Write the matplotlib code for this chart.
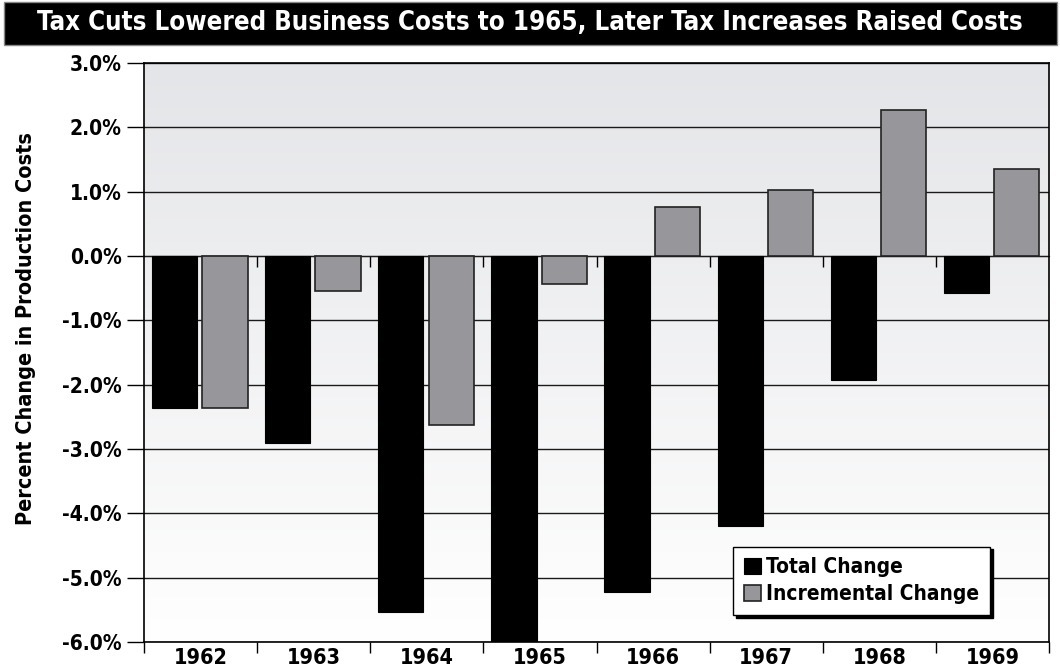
import matplotlib.pyplot as plt
import matplotlib.patches as mpatches
import numpy as np

# Data
years = ['1962', '1963', '1964', '1965', '1966', '1967', '1968', '1969']
total_change = [-2.36, -2.90, -5.54, -5.98, -5.22, -4.19, -1.93, -0.57]
incremental_change = [-2.36, -0.54, -2.63, -0.44, 0.76, 1.02, 2.27, 1.35]
y_ticks = [3, 2, 1, 0, -1, -2, -3, -4, -5, -6]

plt.rcParams['font.family'] = 'DejaVu Sans'
plt.rcParams['font.stretch'] = 'condensed'
plt.rcParams['font.weight'] = 'bold'

fig = plt.figure(figsize=(10.6, 6.71), dpi=100)
ax = fig.add_axes([144 / 1060, 1 - 642 / 671, 905 / 1060, 579 / 671])

ymin, ymax = -6, 3
ax.set_xlim(0, len(years))
ax.set_ylim(ymin, ymax)

# gradient background
grad = np.linspace(0, 1, 256).reshape(-1, 1)
ax.imshow(grad, extent=[0, len(years), ymin, ymax], aspect='auto',
          cmap=plt.matplotlib.colors.LinearSegmentedColormap.from_list(
              'bg', ['#ffffff', '#e4e5e8']),
          origin='lower', zorder=0)

# gridlines
for t in y_ticks:
    ax.axhline(t, color='#1a1a1a', lw=1.0, zorder=1)

x = np.arange(len(years))
ax.bar(x + 0.27, total_change, width=0.40, color='black', edgecolor='black',
       lw=0.8, zorder=3, label='Total Change')
ax.bar(x + 0.715, incremental_change, width=0.40, color='#97979b',
       edgecolor='#222222', lw=1.2, zorder=3, label='Incremental Change')

# y axis
ax.set_yticks(y_ticks)
ax.set_yticklabels([f'{v:.1f}%' for v in y_ticks], fontsize=15, fontweight='bold')
ax.tick_params(axis='y', direction='out', length=12, width=1, pad=4)

# x axis: ticks at category boundaries, labels at centers
ax.set_xticks(np.arange(len(years) + 1))
ax.set_xticklabels([])
ax.set_xticks(x + 0.5, minor=True)
ax.set_xticklabels(years, minor=True, fontsize=15.5, fontweight='bold')
ax.tick_params(axis='x', which='major', direction='out', length=8, width=1)
ax.tick_params(axis='x', which='minor', length=0, pad=4)

for s in ax.spines.values():
    s.set_linewidth(1.2)
    s.set_color('black')

# zero axis with its own tick marks (pointing down)
zero_ax = ax.secondary_xaxis((0 - ymin) / (ymax - ymin))
zero_ax.set_xticks(np.arange(1, len(years)))
zero_ax.set_xticklabels([])
zero_ax.tick_params(direction='in', length=8, width=1)
zero_ax.spines['bottom'].set_linewidth(1.2)

ax.set_ylabel('Percent Change in Production Costs', fontsize=15.5,
              fontweight='bold')
ax.yaxis.set_label_coords(-0.119, 0.542)

leg = ax.legend(loc='lower left', bbox_to_anchor=(0.651, 0.047),
                borderaxespad=0, fancybox=False, frameon=True,
                shadow={'color': 'black', 'alpha': 1},
                prop={'size': 15, 'weight': 'bold', 'stretch': 'condensed'},
                handlelength=0.85, handleheight=0.85, handletextpad=0.25,
                labelspacing=0.35, borderpad=0.5)
leg.get_frame().set_edgecolor('black')
leg.get_frame().set_linewidth(1)
leg.get_frame().set_alpha(1)

# title bar
fig.patches.append(mpatches.Rectangle((4 / 1060, 1 - 45 / 671), 1053 / 1060, 43 / 671,
                                      transform=fig.transFigure, facecolor='black',
                                      edgecolor='#888888', lw=1))
fig.text(0.5, 1 - 23 / 671,
         'Tax Cuts Lowered Business Costs to 1965, Later Tax Increases Raised Costs',
         color='white', fontsize=18.5, fontweight='bold', ha='center', va='center')

fig.savefig('out.png', dpi=100)
